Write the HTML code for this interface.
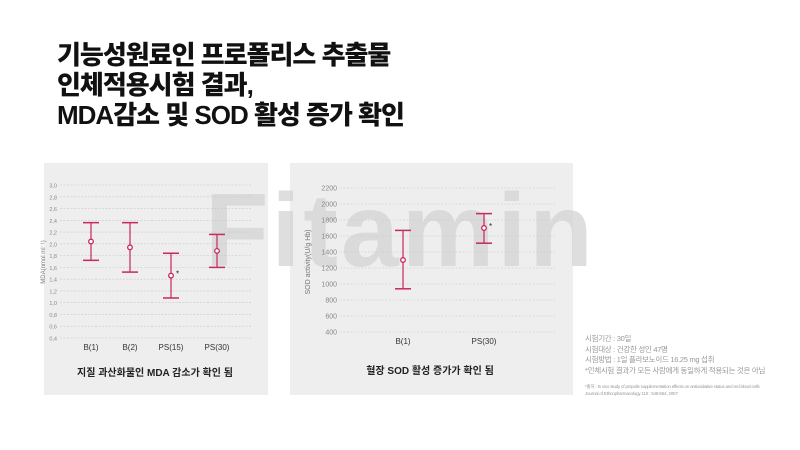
<!DOCTYPE html>
<html><head><meta charset="utf-8"><style>
body{margin:0;width:800px;height:450px;background:#fff;position:relative;overflow:hidden;font-family:"Liberation Sans","Noto Sans CJK KR",sans-serif}
.h{position:absolute;left:57px;font-weight:900;font-size:26px;color:#111;letter-spacing:-1px;line-height:30px}
.panel{position:absolute;background:#eeeeee}
.note{position:absolute;left:585px;color:#999;font-size:7.5px;line-height:10.5px;white-space:nowrap;letter-spacing:-0.3px}
</style></head><body>
<div class="h" style="top:40px">기능성원료인 프로폴리스 추출물<br>인체적용시험 결과,<br>MDA감소 및 SOD 활성 증가 확인</div>
<div class="panel" style="left:44px;top:163px;width:224px;height:232px"></div>
<div class="panel" style="left:290px;top:163px;width:283px;height:232px"></div>
<svg width="800" height="450" style="position:absolute;left:0;top:0">
<text x="205" y="266" font-size="104" font-weight="900" letter-spacing="3" fill="#d6d6d6" opacity="0.8" font-family="Liberation Sans">Fitamin</text>
<g id="g1"></g><g id="g2"></g>
<text x="155" y="376" font-size="10" font-weight="bold" text-anchor="middle" fill="#222">지질 과산화물인 MDA 감소가 확인 됨</text>
<text x="430" y="374" font-size="10" font-weight="bold" text-anchor="middle" fill="#222">혈장 SOD 활성 증가가 확인 됨</text>
<text transform="translate(45,262) rotate(-90)" font-size="6" text-anchor="middle" fill="#777">MDA(nmol ml⁻¹)</text>
<text transform="translate(310,262) rotate(-90)" font-size="7" text-anchor="middle" fill="#777">SOD activity(U/g Hb)</text>
</svg>
<div class="note" style="top:334px">시험기간 : 30일<br>시험대상 : 건강한 성인 47명<br>시험방법 : 1일 플라보노이드 16.25 mg 섭취<br>*인체시험 결과가 모든 사람에게 동일하게 적용되는 것은 아님</div>
<div class="note" style="top:383px;font-size:4.5px;line-height:7px;letter-spacing:-0.2px">*출처 : In vivo study of propolis supplementation effects on antioxidative status and red blood cells<br>Journal of Ethnopharmacology 110 : 548-554, 2007</div>
<script>
const cats1=["B(1)","B(2)","PS(15)","PS(30)"];
const mean1=[2.04,1.94,1.46,1.88];
const hi1=[2.36,2.36,1.84,2.16];
const lo1=[1.72,1.52,1.08,1.60];
const sig1=[false,false,true,false];
const ticks1=["3,0","2,8","2,6","2,4","2,2","2,0","1,8","1,6","1,4","1,2","1,0","0,8","0,6","0,4"];
const cats2=["B(1)","PS(30)"];
const mean2=[1300,1700];
const hi2=[1670,1880];
const lo2=[940,1510];
const sig2=[false,true];
const ticks2=[2200,2000,1800,1600,1400,1200,1000,800,600,400];
const NS="http://www.w3.org/2000/svg";
function mk(p,t,a){const e=document.createElementNS(NS,t);for(const k in a)e.setAttribute(k,a[k]);p.appendChild(e);return e;}
function draw(g,o){
 const y=v=>o.y0+(v-o.vmin)/(o.vmax-o.vmin)*(o.y1-o.y0);
 o.ticks.forEach(t=>{const v=parseFloat(String(t).replace(',','.'));
  const l=mk(g,'line',{x1:o.gx0,x2:o.gx1,y1:y(v),y2:y(v),stroke:'#c8c8c8','stroke-width':0.6,'stroke-dasharray':'2,1.5'});
  
  const tx=mk(g,'text',{x:o.gx0-3,y:y(v)+2.5,'font-size':o.fs,'text-anchor':'end',fill:'#888'});tx.textContent=t;
  });
 o.cats.forEach((c,i)=>{const x=o.xs[i];const col='#c8285a';
  const e=mk(g,'g',{});
  mk(e,'line',{x1:x,x2:x,y1:y(o.hi[i]),y2:y(o.lo[i]),stroke:col,'stroke-width':1.2});
  mk(e,'line',{x1:x-8,x2:x+8,y1:y(o.hi[i]),y2:y(o.hi[i]),stroke:col,'stroke-width':1.5});
  mk(e,'line',{x1:x-8,x2:x+8,y1:y(o.lo[i]),y2:y(o.lo[i]),stroke:col,'stroke-width':1.5});
  const p=mk(g,'circle',{cx:x,cy:y(o.mean[i]),r:2.3,fill:'#fff',stroke:col,'stroke-width':1.3});
  
  if(o.sig[i]){const s=mk(g,'text',{x:x+5,y:y(o.mean[i])+1,'font-size':8,fill:'#222'});s.textContent='*';
   }
  const t=mk(g,'text',{x:x,y:o.ly,'font-size':8,'text-anchor':'middle',fill:'#333'});t.textContent=c;
  });
}
draw(document.getElementById('g1'),{cats:cats1,mean:mean1,hi:hi1,lo:lo1,sig:sig1,ticks:ticks1,vmin:3.0,vmax:0.4,y0:185,y1:338,gx0:60,gx1:252,xs:[91,130,171,217],fs:5.5,ly:350});
draw(document.getElementById('g2'),{cats:cats2,mean:mean2,hi:hi2,lo:lo2,sig:sig2,ticks:ticks2,vmin:2200,vmax:400,y0:188,y1:332,gx0:340,gx1:555,xs:[403,484],fs:7,ly:344});
</script>
</body></html>
